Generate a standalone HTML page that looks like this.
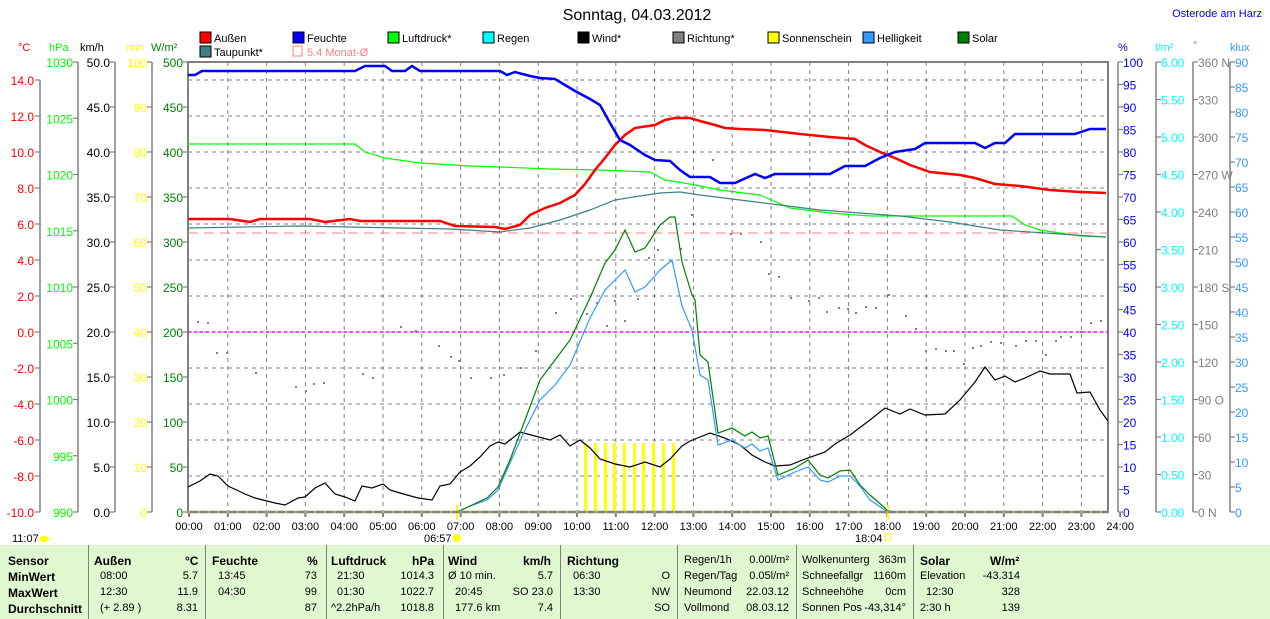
<!DOCTYPE html>
<html><head><meta charset="utf-8"><style>
body{margin:0;background:#fff;width:1270px;height:619px;overflow:hidden;font-family:"Liberation Sans",sans-serif}
svg{position:absolute;left:0;top:0}
#tbl{position:absolute;left:0;top:545px;width:1270px;height:74px;background:#e0f8d0;font-size:11px}
#tbl div{position:absolute;white-space:nowrap}
.b{font-weight:bold;font-size:12px}
.sep{position:absolute;top:0;width:1px;height:74px;background:#808080}
</style></head><body>
<svg id="s" width="1270" height="545" font-family="Liberation Sans, sans-serif" font-size="12">
<text x="637" y="20" text-anchor="middle" font-size="16">Sonntag, 04.03.2012</text>
<text x="1262" y="17" text-anchor="end" fill="#0000ff" font-size="11">Osterode am Harz</text>
<g id="grid" stroke="#808080" stroke-dasharray="4,4" stroke-width="1"></g>
<g id="ax" stroke="#808080" stroke-width="2"></g>
<line x1="188" y1="233" x2="1108" y2="233" stroke="#ff8080" stroke-dasharray="10,6"/>
<line x1="188" y1="332" x2="1108" y2="332" stroke="#ff00ff" stroke-width="1.5" stroke-dasharray="3,3"/>
<g id="dots" fill="#808080"></g>
<g fill="#ffff00">
<rect x="584" y="443" width="3" height="69"/><rect x="594" y="443" width="3" height="69"/><rect x="604" y="443" width="3" height="69"/><rect x="613" y="443" width="3" height="69"/><rect x="623" y="443" width="3" height="69"/><rect x="633" y="443" width="3" height="69"/><rect x="642" y="443" width="3" height="69"/><rect x="652" y="443" width="3" height="69"/><rect x="662" y="443" width="3" height="69"/><rect x="672" y="443" width="3" height="69"/>
<rect x="456" y="505" width="2" height="15"/><rect x="887" y="505" width="2" height="15"/>
</g>
<polyline fill="none" stroke="#00ff00" stroke-width="1.2" points="188,144 355,144 365,152 385,158 420,163 470,166 500,167 550,169 600,170 650,172 665,180 690,184 720,190 760,195 790,208 830,213 870,216 1005,216 1012,216 1025,225 1040,230 1080,236 1106,237"/>
<polyline fill="none" stroke="#408080" stroke-width="1.2" points="188,228 300,226 450,229 500,232 530,228 560,220 590,210 615,200 640,196 660,193 680,192 700,195 740,200 780,205 820,210 860,213 900,216 950,222 1000,230 1060,234 1106,237"/>
<polyline fill="none" stroke="#ff0000" stroke-width="2.5" points="188,219 230,219 250,222 260,219 310,219 325,222 350,219 360,221 440,221 455,226 495,227 505,229 520,225 530,215 545,208 560,203 575,195 585,184 595,170 605,158 615,145 625,135 635,128 655,125 665,120 675,118 690,118 700,121 715,125 725,128 740,129 765,130 800,134 830,137 855,139 865,145 880,152 895,158 910,165 930,172 960,175 975,178 995,184 1020,186 1050,190 1080,192 1106,193"/>
<polyline fill="none" stroke="#0000ff" stroke-width="2.5" points="188,75 195,75 202,71 355,71 365,66 385,66 392,71 405,71 412,66 420,71 500,71 507,75 515,72 530,76 540,78 555,79 565,85 575,91 590,99 600,105 610,123 620,140 630,145 645,155 655,160 670,161 680,170 690,177 710,177 720,183 735,183 755,174 765,178 775,174 830,174 845,166 865,166 880,158 895,152 915,149 925,143 975,143 985,148 995,143 1005,143 1015,134 1075,134 1090,129 1106,129"/>
<polyline fill="none" stroke="#000" stroke-width="1.2" points="188,487 200,481 210,474 218,476 228,486 245,494 255,498 275,503 285,505 298,498 305,497 315,488 325,483 335,494 345,497 355,501 362,486 372,488 383,484 390,490 400,493 418,498 432,500 440,486 450,484 460,472 470,466 480,457 490,446 498,442 505,444 520,432 535,436 550,440 560,435 570,446 580,440 590,448 600,459 615,464 630,467 645,462 660,467 670,459 682,446 690,441 710,433 725,438 740,445 752,455 765,462 775,466 790,465 805,459 825,452 835,444 850,435 870,420 885,408 900,414 910,409 925,415 945,414 960,400 975,382 985,367 995,380 1005,376 1015,382 1025,378 1040,371 1050,374 1070,374 1077,393 1090,392 1100,410 1108,421"/>
<polyline fill="none" stroke="#3399ff" stroke-width="1.2" points="457,512 470,506 487,500 498,490 510,463 525,430 540,400 555,385 570,365 590,318 605,290 615,280 625,270 635,292 645,287 660,270 672,260 682,306 692,330 700,375 708,380 718,445 732,440 745,448 752,444 760,451 768,448 778,480 795,472 808,467 820,480 828,482 840,476 850,476 860,486 870,500 885,510 895,512"/>
<polyline fill="none" stroke="#008000" stroke-width="1.2" points="457,512 470,506 487,498 498,487 510,460 525,420 540,380 555,360 570,340 590,298 605,263 615,250 625,230 635,252 645,248 660,225 670,217 675,217 682,262 692,295 695,300 700,355 708,362 718,433 732,428 745,436 752,432 760,438 768,436 778,475 795,468 808,460 820,475 828,478 840,471 850,470 860,485 870,495 885,508 888,512"/>
<line x1="188" y1="512" x2="1108" y2="512" stroke="#808080" stroke-width="2.5"/>
<line x1="188" y1="512" x2="1108" y2="512" stroke="#ffff00" stroke-width="1" stroke-dasharray="2,7.7"/>
<g id="lbl"></g>
<g font-size="11">
<rect x="200" y="32" width="11" height="11" fill="#ff0000" stroke="#000"/><text x="214" y="42">Außen</text>
<rect x="293" y="32" width="11" height="11" fill="#0000ff" stroke="#000"/><text x="307" y="42">Feuchte</text>
<rect x="388" y="32" width="11" height="11" fill="#00ff00" stroke="#000"/><text x="402" y="42">Luftdruck*</text>
<rect x="483" y="32" width="11" height="11" fill="#00ffff" stroke="#000"/><text x="497" y="42">Regen</text>
<rect x="578" y="32" width="11" height="11" fill="#000" stroke="#000"/><text x="592" y="42">Wind*</text>
<rect x="673" y="32" width="11" height="11" fill="#808080" stroke="#000"/><text x="687" y="42">Richtung*</text>
<rect x="768" y="32" width="11" height="11" fill="#ffff00" stroke="#000"/><text x="782" y="42">Sonnenschein</text>
<rect x="863" y="32" width="11" height="11" fill="#3399ff" stroke="#000"/><text x="877" y="42">Helligkeit</text>
<rect x="958" y="32" width="11" height="11" fill="#008000" stroke="#000"/><text x="972" y="42">Solar</text>
<rect x="200" y="46" width="11" height="11" fill="#408080" stroke="#000"/><text x="214" y="56">Taupunkt*</text>
<rect x="293" y="46" width="9" height="10" fill="none" stroke="#ff8080"/><text x="307" y="56" fill="#ff8080">5.4 Monat-Ø</text>
</g>
<g font-size="11">
<text x="18" y="51" fill="#ff0000">°C</text><text x="49" y="51" fill="#00ff00">hPa</text><text x="80" y="51">km/h</text>
<text x="126" y="51" fill="#ffff00">min</text><text x="151" y="51" fill="#008000">W/m²</text>
<text x="1118" y="51" fill="#0000ff">%</text><text x="1155" y="51" fill="#00ffff">l/m²</text><text x="1193" y="49" fill="#808080">°</text><text x="1230" y="51" fill="#3399ff">klux</text>
<text x="12" y="542">11:07</text><ellipse cx="44" cy="539" rx="5" ry="3" fill="#ffff00"/>
<text x="424" y="542">06:57</text><circle cx="457" cy="538" r="4" fill="#ffff00"/>
<text x="855" y="542">18:04</text><rect x="885" y="534" width="6" height="6" fill="none" stroke="#ffff00"/>
</g>
</svg>
<div id="tbl">
<div class="sep" style="left:88px"></div><div class="sep" style="left:205px"></div><div class="sep" style="left:326px"></div><div class="sep" style="left:443px"></div><div class="sep" style="left:560px"></div><div class="sep" style="left:677px"></div><div class="sep" style="left:796px"></div><div class="sep" style="left:913px"></div>
<div class="b" style="left:8px;top:9px">Sensor</div><div class="b" style="left:8px;top:25px">MinWert</div><div class="b" style="left:8px;top:41px">MaxWert</div><div class="b" style="left:8px;top:57px">Durchschnitt</div>
<div class="b" style="left:94px;top:9px">Außen</div><div class="b" style="left:185px;top:9px">°C</div>
<div style="left:100px;top:25px">08:00</div><div style="left:100px;top:41px">12:30</div><div style="left:100px;top:57px">(+ 2.89 )</div>
<div style="right:1072px;top:25px">5.7</div><div style="right:1072px;top:41px">11.9</div><div style="right:1072px;top:57px">8.31</div>
<div class="b" style="left:212px;top:9px">Feuchte</div><div class="b" style="left:307px;top:9px">%</div>
<div style="left:218px;top:25px">13:45</div><div style="left:218px;top:41px">04:30</div>
<div style="right:953px;top:25px">73</div><div style="right:953px;top:41px">99</div><div style="right:953px;top:57px">87</div>
<div class="b" style="left:331px;top:9px">Luftdruck</div><div class="b" style="left:412px;top:9px">hPa</div>
<div style="left:337px;top:25px">21:30</div><div style="left:337px;top:41px">01:30</div><div style="left:331px;top:57px">^2.2hPa/h</div>
<div style="right:836px;top:25px">1014.3</div><div style="right:836px;top:41px">1022.7</div><div style="right:836px;top:57px">1018.8</div>
<div class="b" style="left:448px;top:9px">Wind</div><div class="b" style="left:523px;top:9px">km/h</div>
<div style="left:448px;top:25px">Ø 10 min.</div><div style="left:455px;top:41px">20:45</div><div style="left:455px;top:57px">177.6 km</div>
<div style="right:717px;top:25px">5.7</div><div style="right:717px;top:41px">SO 23.0</div><div style="right:717px;top:57px">7.4</div>
<div class="b" style="left:567px;top:9px">Richtung</div>
<div style="left:573px;top:25px">06:30</div><div style="left:573px;top:41px">13:30</div>
<div style="right:600px;top:25px">O</div><div style="right:600px;top:41px">NW</div><div style="right:600px;top:57px">SO</div>
<div style="left:684px;top:9px">Regen/1h</div><div style="left:684px;top:25px">Regen/Tag</div><div style="left:684px;top:41px">Neumond</div><div style="left:684px;top:57px">Vollmond</div>
<div style="right:481px;top:9px">0.00l/m²</div><div style="right:481px;top:25px">0.05l/m²</div><div style="right:481px;top:41px">22.03.12</div><div style="right:481px;top:57px">08.03.12</div>
<div style="left:802px;top:9px">Wolkenunterg</div><div style="left:802px;top:25px">Schneefallgr</div><div style="left:802px;top:41px">Schneehöhe</div><div style="left:802px;top:57px">Sonnen Pos</div>
<div style="right:364px;top:9px">363m</div><div style="right:364px;top:25px">1160m</div><div style="right:364px;top:41px">0cm</div><div style="right:364px;top:57px">-43,314°</div>
<div class="b" style="left:920px;top:9px">Solar</div><div class="b" style="left:990px;top:9px">W/m²</div>
<div style="left:920px;top:25px">Elevation</div><div style="left:926px;top:41px">12:30</div><div style="left:920px;top:57px">2:30 h</div>
<div style="right:250px;top:25px">-43.314</div><div style="right:250px;top:41px">328</div><div style="right:250px;top:57px">139</div>
</div>
<script>
var NS="http://www.w3.org/2000/svg";
function el(p,t,a,txt){var e=document.createElementNS(NS,t);for(var k in a)e.setAttribute(k,a[k]);if(txt!==undefined)e.textContent=txt;document.getElementById(p).appendChild(e);return e;}
for(var h=1;h<24;h++){var x=189+38.8*h;el("grid","line",{x1:x,y1:62,x2:x,y2:512});}
for(var k=0;k<12;k++){var y=80+36*k;el("grid","line",{x1:188,y1:y,x2:1108,y2:y});}
for(var h=0;h<=24;h++){var x=189+38.8*h;el("ax","line",{x1:x,y1:512,x2:x,y2:517});el("lbl","text",{x:x,y:530,"text-anchor":"middle","font-size":"11"},(h<10?"0":"")+h+":00");}
el("ax","rect",{x:188,y:62,width:920,height:450,fill:"none"});
function axis(ax,side,y0,y1,n,labs,col,tx){
 el("ax","line",{x1:ax,y1:y0,x2:ax,y2:y1,"stroke-width":1.5});
 for(var i=0;i<n;i++){var y=y0+(y1-y0)*i/(n-1);
  el("ax","line",{x1:side<0?ax-5:ax,y1:y,x2:side<0?ax:ax+5,y2:y,"stroke-width":1.2});
  el("lbl","text",{x:tx,y:y+5,"text-anchor":side<0?"end":"start",fill:col},labs[i]);}
}
function rng(a,b,s,d,suf){var r=[];for(var v=a;v>=b-1e-9;v-=s)r.push(v.toFixed(d)+(suf||""));return r;}
axis(40,-1,80,512,13,rng(14,-10,2,1),"#ff0000",34);
axis(78,-1,62,512,9,rng(1030,990,5,0),"#00ff00",73);
axis(115,-1,62,512,11,rng(50,0,5,1),"#000",110);
axis(152,-1,62,512,11,rng(100,0,10,0),"#ffff00",147);
(function(){var l=rng(500,0,50,0);for(var i=0;i<11;i++){var y=62+45*i;el("ax","line",{x1:183,y1:y,x2:188,y2:y,"stroke-width":1.2});el("lbl","text",{x:183,y:y+5,"text-anchor":"end",fill:"#008000"},l[i]);}})();
axis(1118,1,62,512,21,rng(100,0,5,0),"#0000ff",1123);
axis(1156,1,62,512,13,rng(6,0,0.5,2),"#00ffff",1161);
axis(1193,1,62,512,13,["360 N","330","300","270 W","240","210","180 S","150","120","90  O","60","30","0  N"],"#808080",1198);
axis(1230,1,62,512,19,rng(90,0,5,0),"#3399ff",1235);
var d=[[197,321],[207,322],[216,352],[226,352],[255,372],[295,386],[305,390],[313,383],[323,382],[362,373],[372,377],[400,326],[415,330],[438,345],[450,356],[458,360],[470,377],[490,377],[503,374],[520,367],[535,350],[555,312],[570,298],[586,313],[596,302],[606,325],[614,300],[624,320],[637,298],[648,257],[657,249],[670,260],[680,248],[691,214],[712,159],[730,233],[740,233],[760,241],[768,273],[778,276],[790,297],[808,300],[818,297],[826,311],[838,307],[847,308],[855,312],[865,306],[875,307],[888,294],[905,315],[915,328],[925,350],[935,348],[945,350],[953,350],[963,363],[972,347],[980,345],[990,341],[1000,342],[1015,345],[1025,340],[1035,340],[1045,354],[1055,340],[1060,336],[1070,336],[1080,331],[1090,322],[1100,320]];
d.forEach(function(p){el("dots","rect",{x:p[0],y:p[1],width:2,height:2});});
</script>
</body></html>
